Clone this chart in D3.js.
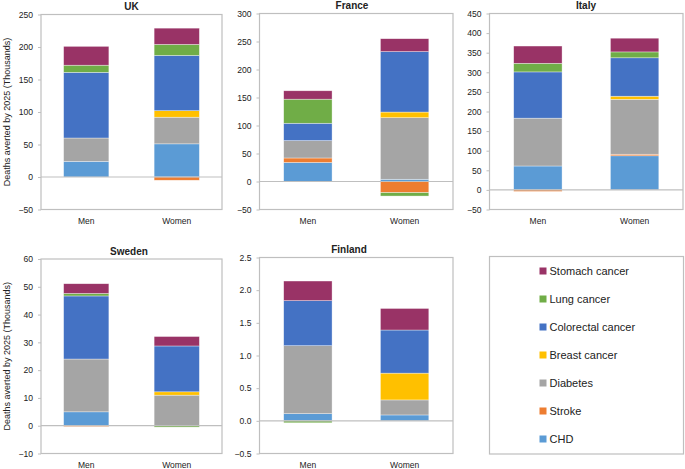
<!DOCTYPE html>
<html>
<head>
<meta charset="utf-8">
<script src="https://cdn.jsdelivr.net/npm/d3@7"></script>
<style>
  body { margin: 0; background: #fff; }
  svg { font-family: "Liberation Sans", Arial, sans-serif; }
</style>
</head>
<body>
<svg id="chart" width="685" height="469"></svg>
<script>
// categories and series
const sexes = ["Men", "Women"];
const causes = ["CHD", "Stroke", "Diabetes", "Breast cancer", "Colorectal cancer", "Lung cancer", "Stomach cancer"];
const causeColors = ["#5b9bd5", "#ed7d31", "#a5a5a5", "#ffc000", "#4472c4", "#70ad47", "#993366"];

// deaths averted by 2025 (thousands), one value per cause in the order above
const ukMen = [24, 0, 36, 0, 101, 11, 29];
const ukWomen = [51, -5, 41, 10, 85, 17, 25];
const franceMen = [34, 8, 31, 0, 31, 43, 15];
const franceWomen = [4, -20, 110, 10, 108, -6, 23];
const italyMen = [61, -4, 122, 0, 118, 22, 44];
const italyWomen = [87, 4, 140, 8, 98, 15, 35];
const swedenMen = [5, -0.3, 19, 0, 22.7, 0.9, 3.5];
const swedenWomen = [0, 0, 11, 1.2, 16.5, -0.5, 3.4];
const finlandMen = [0.11, 0, 1.04, 0, 0.69, -0.03, 0.3];
const finlandWomen = [0.09, 0, 0.23, 0.41, 0.66, 0, 0.33];

// axis ranges
const ukTicks = [-50, 0, 50, 100, 150, 200, 250];
const franceTicks = [-50, 0, 50, 100, 150, 200, 250, 300];
const italyTicks = [-50, 0, 50, 100, 150, 200, 250, 300, 350, 400, 450];
const swedenTicks = [-10, 0, 10, 20, 30, 40, 50, 60];
const finlandTicks = [-0.5, 0, 0.5, 1.0, 1.5, 2.0, 2.5];

const panels = [
  { title: "UK", men: ukMen, women: ukWomen, ticks: ukTicks, fmt: d3.format("d"),
    box: [41, 14.5, 222, 209.5], titleX: 131.5, yTitle: true },
  { title: "France", men: franceMen, women: franceWomen, ticks: franceTicks, fmt: d3.format("d"),
    box: [259.5, 13.5, 453, 209.5], titleX: 352 },
  { title: "Italy", men: italyMen, women: italyWomen, ticks: italyTicks, fmt: d3.format("d"),
    box: [489.5, 13.5, 683, 209.5], titleX: 586 },
  { title: "Sweden", men: swedenMen, women: swedenWomen, ticks: swedenTicks, fmt: d3.format("d"),
    box: [41, 259, 222, 453.5], titleX: 129, yTitle: true },
  { title: "Finland", men: finlandMen, women: finlandWomen, ticks: finlandTicks, fmt: d3.format(".1f"),
    box: [259.5, 257.5, 453, 453.5], titleX: 349 }
];

const svg = d3.select("#chart");
const gridColor = "#bfbfbf";
const textColor = "#222";

panels.forEach(p => {
  const [x0, y0, x1, y1] = p.box;
  const g = svg.append("g");

  const x = d3.scaleBand().domain(sexes).range([x0, x1]).paddingInner(0.5).paddingOuter(0.25);
  const y = d3.scaleLinear().domain(d3.extent(p.ticks)).range([y1, y0]);

  const rows = sexes.map(s => {
    const vals = s === "Men" ? p.men : p.women;
    const row = { sex: s };
    causes.forEach((c, i) => row[c] = vals[i]);
    return row;
  });
  const series = d3.stack().keys(causes).offset(d3.stackOffsetDiverging)(rows);

  // plot border
  g.append("rect")
    .attr("x", x0).attr("y", y0)
    .attr("width", x1 - x0).attr("height", y1 - y0)
    .attr("fill", "none").attr("stroke", gridColor).attr("stroke-width", 1.2);

  // bars
  g.selectAll("g.series")
    .data(series)
    .join("g")
    .attr("fill", (d, i) => causeColors[i])
    .selectAll("rect")
    .data(d => d)
    .join("rect")
    .attr("x", d => x(d.data.sex))
    .attr("width", x.bandwidth())
    .attr("y", d => y(Math.max(d[0], d[1])))
    .attr("height", d => Math.abs(y(d[0]) - y(d[1])))
    .attr("stroke", "#fff")
    .attr("stroke-opacity", 0.6)
    .attr("stroke-width", 0.6);

  // zero line
  g.append("line")
    .attr("x1", x0).attr("x2", x1)
    .attr("y1", y(0)).attr("y2", y(0))
    .attr("stroke", gridColor).attr("stroke-width", 1.2);

  // y axis
  const yAxis = g.append("g")
    .attr("transform", `translate(${x0},0)`)
    .call(d3.axisLeft(y).tickValues(p.ticks).tickFormat(p.fmt).tickSize(3).tickPadding(5));
  yAxis.select(".domain").remove();
  yAxis.selectAll(".tick line").attr("stroke", gridColor);
  yAxis.selectAll(".tick text")
    .attr("fill", textColor)
    .style("font-size", "8.6px")
    .style("font-family", "'Liberation Sans', Arial, sans-serif");

  // x labels
  g.selectAll("text.xlab")
    .data(sexes)
    .join("text")
    .attr("class", "xlab")
    .attr("x", d => x(d) + x.bandwidth() / 2)
    .attr("y", y1 + 14.5)
    .attr("text-anchor", "middle")
    .attr("fill", textColor)
    .style("font-size", "8.5px")
    .text(d => d);

  // title
  g.append("text")
    .attr("x", p.titleX)
    .attr("y", y0 - 4.5)
    .attr("text-anchor", "middle")
    .attr("fill", textColor)
    .style("font-size", "10px")
    .style("font-weight", "bold")
    .text(p.title);

  if (p.yTitle) {
    g.append("text")
      .attr("transform", `translate(10,${(y0 + y1) / 2}) rotate(-90)`)
      .attr("text-anchor", "middle")
      .attr("fill", textColor)
      .style("font-size", "9px")
      .text("Deaths averted by 2025 (Thousands)");
  }
});

// legend
const legend = svg.append("g");
legend.append("rect")
  .attr("x", 489.5).attr("y", 256.5)
  .attr("width", 194).attr("height", 197.5)
  .attr("fill", "none").attr("stroke", gridColor).attr("stroke-width", 1.2);

const legendItems = causes.map((c, i) => ({ name: c, color: causeColors[i] })).reverse();
const item = legend.selectAll("g.item")
  .data(legendItems)
  .join("g")
  .attr("class", "item")
  .attr("transform", (d, i) => `translate(539.5,${271 + i * 28})`);
item.append("rect")
  .attr("x", 0).attr("y", -3.5)
  .attr("width", 7).attr("height", 7)
  .attr("fill", d => d.color);
item.append("text")
  .attr("x", 10).attr("y", 4)
  .attr("fill", textColor)
  .style("font-size", "11px")
  .text(d => d.name);
</script>
</body>
</html>
